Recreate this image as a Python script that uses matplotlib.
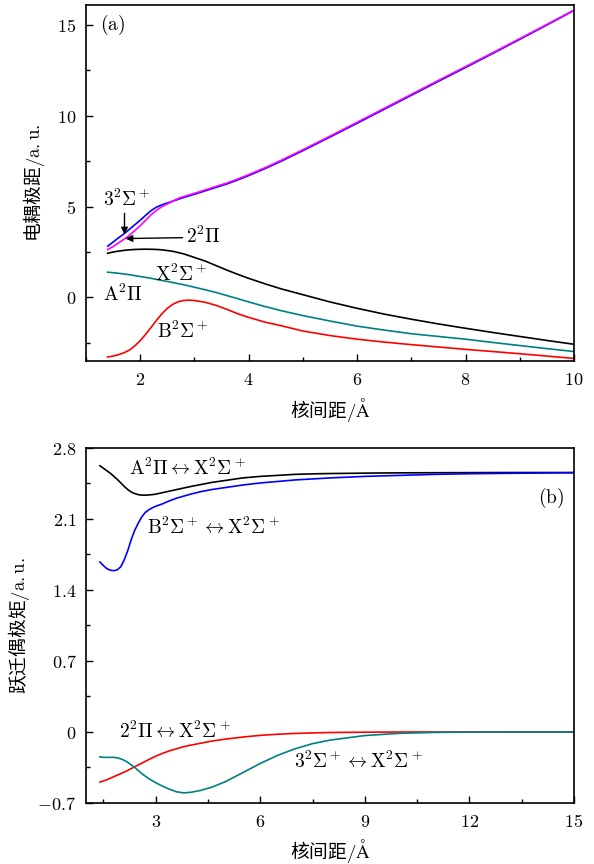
import matplotlib
matplotlib.use('Agg')
import matplotlib.pyplot as plt
from matplotlib.ticker import MultipleLocator, FuncFormatter

plt.rcParams['mathtext.fontset'] = 'cm'
plt.rcParams['font.family'] = ['Noto Sans CJK SC', 'DejaVu Sans']
plt.rcParams['font.size'] = 12

# ---------------- data: panel (a) dipole moments ----------------
r_a = [1.4, 1.5, 1.6, 1.7, 1.8, 1.9, 2.0, 2.1, 2.2, 2.3, 2.4, 2.5, 2.6, 2.7,
       2.8, 2.9, 3.0, 3.2, 3.4, 3.6, 3.8, 4.0, 4.3, 4.6, 5.0, 5.5, 6.0, 6.5,
       7.0, 7.5, 8.0, 8.5, 9.0, 9.5, 10.0]
dm_3S = [2.82, 3.05, 3.28, 3.5, 3.75, 4.0, 4.25, 4.52, 4.78, 4.97, 5.1, 5.2,
         5.3, 5.4, 5.5, 5.59, 5.68, 5.87, 6.06, 6.25, 6.47, 6.71, 7.09, 7.5,
         8.08, 8.83, 9.59, 10.36, 11.13, 11.9, 12.66, 13.43, 14.21, 15.0, 15.8]
dm_2P = [2.64, 2.8, 3.0, 3.2, 3.42, 3.68, 3.95, 4.25, 4.55, 4.8, 5.0, 5.15,
         5.3, 5.45, 5.55, 5.64, 5.73, 5.92, 6.11, 6.3, 6.52, 6.76, 7.14, 7.55,
         8.13, 8.88, 9.64, 10.41, 11.18, 11.95, 12.71, 13.47, 14.25, 15.03, 15.82]
dm_A = [2.43, 2.5, 2.55, 2.59, 2.62, 2.64, 2.65, 2.655, 2.65, 2.64, 2.62, 2.58,
        2.54, 2.47, 2.4, 2.3, 2.2, 2.0, 1.75, 1.5, 1.27, 1.05, 0.75, 0.47,
        0.15, -0.25, -0.6, -0.92, -1.2, -1.46, -1.7, -1.93, -2.15, -2.37, -2.58]
dm_X = [1.39, 1.36, 1.33, 1.29, 1.25, 1.2, 1.15, 1.1, 1.05, 0.99, 0.93, 0.88,
        0.82, 0.76, 0.7, 0.63, 0.56, 0.42, 0.27, 0.1, -0.07, -0.25, -0.5,
        -0.73, -1.0, -1.3, -1.58, -1.8, -2.0, -2.15, -2.3, -2.48, -2.65, -2.82,
        -2.98]
dm_B = [-3.28, -3.23, -3.15, -3.05, -2.9, -2.67, -2.38, -2.03, -1.65, -1.26,
        -0.9, -0.6, -0.38, -0.24, -0.17, -0.15, -0.17, -0.27, -0.44, -0.66,
        -0.9, -1.1, -1.36, -1.56, -1.85, -2.1, -2.3, -2.46, -2.6, -2.73, -2.86,
        -2.98, -3.1, -3.23, -3.36]

# ---------------- data: panel (b) transition dipole moments ----------------
r_b = [1.4, 1.5, 1.6, 1.7, 1.8, 1.9, 2.0, 2.1, 2.2, 2.3, 2.4, 2.5, 2.6, 2.7,
       2.8, 2.9, 3.0, 3.2, 3.4, 3.6, 3.8, 4.0, 4.3, 4.6, 5.0, 5.5, 6.0, 6.5,
       7.0, 7.5, 8.0, 9.0, 10.0, 11.0, 12.0, 13.0, 14.0, 15.0]
tdm_AX = [2.625, 2.6, 2.575, 2.55, 2.52, 2.49, 2.455, 2.42, 2.39, 2.365, 2.35,
          2.34, 2.335, 2.335, 2.337, 2.34, 2.345, 2.36, 2.375, 2.39, 2.405,
          2.42, 2.44, 2.46, 2.48, 2.505, 2.52, 2.53, 2.54, 2.545, 2.548,
          2.552, 2.555, 2.556, 2.557, 2.558, 2.558, 2.558]
tdm_BX = [1.676, 1.64, 1.61, 1.595, 1.59, 1.6, 1.63, 1.7, 1.79, 1.9, 1.99,
          2.06, 2.12, 2.165, 2.19, 2.21, 2.225, 2.25, 2.28, 2.305, 2.325,
          2.345, 2.37, 2.39, 2.41, 2.435, 2.455, 2.47, 2.485, 2.495, 2.505,
          2.52, 2.53, 2.54, 2.546, 2.55, 2.553, 2.556]
tdm_2PX = [-0.494, -0.482, -0.47, -0.455, -0.44, -0.425, -0.41, -0.395,
           -0.378, -0.36, -0.342, -0.325, -0.307, -0.29, -0.272, -0.255,
           -0.238, -0.21, -0.185, -0.165, -0.145, -0.13, -0.11, -0.09, -0.07,
           -0.05, -0.033, -0.022, -0.014, -0.009, -0.005, -0.002, 0.0, 0.0,
           0.0, 0.0, 0.0, 0.0]
tdm_3SX = [-0.245, -0.25, -0.25, -0.25, -0.25, -0.255, -0.265, -0.28, -0.3,
           -0.325, -0.35, -0.38, -0.41, -0.435, -0.46, -0.48, -0.5, -0.535,
           -0.565, -0.59, -0.6, -0.595, -0.575, -0.545, -0.49, -0.4, -0.31,
           -0.23, -0.165, -0.115, -0.08, -0.035, -0.013, -0.004, -0.001, 0.0,
           0.0, 0.0]

xlabel = '核间距$/\\mathrm{\\AA}$'
ylabel_a = '电耦极距$/\\mathrm{a.u.}$'
ylabel_b = '跃迁偶极矩$/\\mathrm{a.u.}$'

fig = plt.figure(figsize=(5.94, 8.64), dpi=100)
ax1 = fig.add_axes([0.1448, 0.5822, 0.8215, 0.412])
ax2 = fig.add_axes([0.1448, 0.0706, 0.8215, 0.4109])

fmt = FuncFormatter(lambda v, p: '$%s$' % ('%g' % round(v, 6)))

lw = 1.2
ax1.plot(r_a, dm_3S, color='#0000ff', lw=lw)
ax1.plot(r_a, dm_2P, color='#ff00ff', lw=lw)
ax1.plot(r_a, dm_A, color='black', lw=lw)
ax1.plot(r_a, dm_X, color='#008080', lw=lw)
ax1.plot(r_a, dm_B, color='#ff0000', lw=lw)
ax1.set_xlim(1, 10)
ax1.set_ylim(-3.5, 16.1)
ax1.xaxis.set_major_locator(MultipleLocator(2))
ax1.xaxis.set_minor_locator(MultipleLocator(1))
ax1.yaxis.set_major_locator(MultipleLocator(5))
ax1.yaxis.set_minor_locator(MultipleLocator(2.5))

ax2.plot(r_b, tdm_AX, color='black', lw=lw)
ax2.plot(r_b, tdm_BX, color='#0000ff', lw=lw)
ax2.plot(r_b, tdm_2PX, color='#ff0000', lw=lw)
ax2.plot(r_b, tdm_3SX, color='#008080', lw=lw)
ax2.set_xlim(1, 15)
ax2.set_ylim(-0.7, 2.8)
ax2.xaxis.set_major_locator(MultipleLocator(3))
ax2.xaxis.set_minor_locator(MultipleLocator(1.5))
ax2.yaxis.set_major_locator(MultipleLocator(0.7))
ax2.yaxis.set_minor_locator(MultipleLocator(0.35))

for ax in (ax1, ax2):
    ax.xaxis.set_major_formatter(fmt)
    ax.yaxis.set_major_formatter(fmt)
    ax.tick_params(which='both', direction='in', top=False, right=False,
                   labelsize=13)
    ax.tick_params(which='major', length=5, width=1.0, pad=7)
    ax.tick_params(which='minor', length=3, width=1.0)
    for s in ax.spines.values():
        s.set_linewidth(1.2)

ax1.set_xlabel(xlabel, fontsize=13.5, va='center')
ax1.set_ylabel(ylabel_a, fontsize=13.5)
ax2.set_xlabel(xlabel, fontsize=13.5, va='center')
ax2.set_ylabel(ylabel_b, fontsize=13.5)
ax1.xaxis.set_label_coords(0.5, -0.138)
ax1.yaxis.set_label_coords(-0.08, 0.5)
ax2.xaxis.set_label_coords(0.5, -0.136)
ax2.yaxis.set_label_coords(-0.111, 0.5)

fs = 14
ax1.text(1.26, 15.0, '$(\\mathrm{a})$', ha='left', va='center', fontsize=fs)
ax1.text(1.76, 5.35, '$3^2\\Sigma^+$', ha='center', va='center', fontsize=fs)
ax1.text(2.85, 3.31, '$2^2\\Pi$', ha='left', va='center', fontsize=fs)
ax1.text(2.75, 1.21, '$\\mathrm{X}^2\\Sigma^+$', ha='center', va='center', fontsize=fs)
ax1.text(1.67, 0.11, '$\\mathrm{A}^2\\Pi$', ha='center', va='center', fontsize=fs)
ax1.text(2.78, -1.91, '$\\mathrm{B}^2\\Sigma^+$', ha='center', va='center', fontsize=fs)
arw = dict(arrowstyle='-|>', color='black', lw=1.0, shrinkA=0, shrinkB=0,
           mutation_scale=10)
ax1.annotate('', xy=(1.71, 3.47), xytext=(1.71, 4.63), arrowprops=arw)
ax1.annotate('', xy=(1.73, 3.24), xytext=(2.78, 3.29), arrowprops=arw)

ax2.text(3.91, 2.59, '$\\mathrm{A}^2\\Pi \\leftrightarrow \\mathrm{X}^2\\Sigma^+$',
         ha='center', va='center', fontsize=fs)
ax2.text(4.66, 2.01, '$\\mathrm{B}^2\\Sigma^+ \\leftrightarrow \\mathrm{X}^2\\Sigma^+$',
         ha='center', va='center', fontsize=fs)
ax2.text(14.35, 2.31, '$(\\mathrm{b})$', ha='center', va='center', fontsize=fs)
ax2.text(3.55, 0.0, '$2^2\\Pi \\leftrightarrow \\mathrm{X}^2\\Sigma^+$',
         ha='center', va='center', fontsize=fs)
ax2.text(8.82, -0.30, '$3^2\\Sigma^+ \\leftrightarrow \\mathrm{X}^2\\Sigma^+$',
         ha='center', va='center', fontsize=fs)

fig.savefig('out.png', dpi=100)
